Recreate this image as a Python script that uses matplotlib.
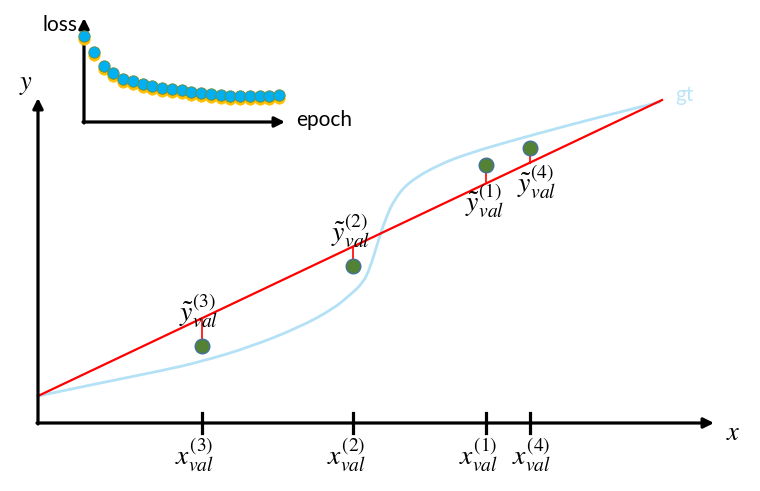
import numpy as np
import matplotlib
matplotlib.use("Agg")
import matplotlib.pyplot as plt
from matplotlib.path import Path
from matplotlib.patches import PathPatch

plt.rcParams['mathtext.fontset'] = 'stix'
plt.rcParams['font.family'] = ['Lato', 'DejaVu Sans']

# ---- data (diagram coordinates, pixel units of the reference) ----
origin = (38, 423)
x_axis_end = 714
y_axis_end = 98

fit_line_x = [38, 662]
fit_line_y = [396, 100]

gt_x = [38, 100, 160, 200, 250, 300, 333, 350, 363, 370, 377, 385, 395, 410, 440, 470, 507, 573, 620, 660]
gt_y = [396, 383, 371, 362, 347, 327, 309, 295, 283, 268, 245, 220, 198, 181, 164, 153, 142, 124, 112, 102]

val_ids = ['1', '2', '3', '4']
val_x = [486, 353, 202, 530]
val_y = [165, 266, 346, 148]

ytilde_label_pos = [(485, 201), (351, 231), (199, 311), (537, 182)]
x_label_pos = [(478, 455), (346, 455), (194, 455), (531, 455)]

# inset loss curve
epochs = np.arange(21)
loss = [86, 70, 56, 49, 43, 41, 38, 36, 34, 33, 32, 30, 29, 28, 27, 26, 26, 26, 26, 26, 27]
inset_origin = (84, 122)
inset_x_end = 285
inset_y_end = 18

fig = plt.figure(figsize=(7.6, 4.91), dpi=100)
ax = fig.add_axes([0, 0, 1, 1])
ax.set_xlim(0, 760)
ax.set_ylim(491, 0)
ax.axis('off')

arrow_kw = dict(arrowstyle='-|>,head_length=0.6,head_width=0.3', color='black', lw=2.3,
                shrinkA=0, shrinkB=0)

# main axes
ax.annotate('', xy=(x_axis_end, origin[1]), xytext=(origin[0] - 1, origin[1]), arrowprops=arrow_kw)
ax.annotate('', xy=(origin[0], y_axis_end), xytext=(origin[0], origin[1] + 1), arrowprops=arrow_kw)
ax.text(733, 433, '$x$', fontsize=19, ha='center', va='center')
ax.text(26, 84, '$y$', fontsize=19, ha='center', va='center')

# gt curve (smoothed rendering of the read points with quadratic Bezier segments)
pts = np.column_stack([gt_x, gt_y]).astype(float)
verts = [pts[0]]
codes = [Path.MOVETO]
for i in range(1, len(pts) - 1):
    mid = (pts[i] + pts[i + 1]) / 2 if i < len(pts) - 2 else pts[i + 1]
    verts += [pts[i], mid]
    codes += [Path.CURVE3, Path.CURVE3]
ax.add_patch(PathPatch(Path(verts, codes), fill=False, edgecolor='#B4E1F5', lw=2,
                       capstyle='round', joinstyle='round'))
ax.text(675, 95, 'gt', fontsize=15, color='#BDE5F8', ha='left', va='center')
ax.plot(fit_line_x, fit_line_y, color='#FF0000', lw=1.6)

slope = (fit_line_y[1] - fit_line_y[0]) / (fit_line_x[1] - fit_line_x[0])
for k, xv, yv, (tx, ty), (lx, ly) in zip(val_ids, val_x, val_y, ytilde_label_pos, x_label_pos):
    y_line = fit_line_y[0] + slope * (xv - fit_line_x[0])
    ax.plot([xv, xv], [yv, y_line], color='#FF0000', lw=1.2, zorder=3)
    ax.plot([xv, xv], [origin[1] - 10, origin[1] + 10], color='black', lw=2.3, zorder=3)
    ax.plot(xv, yv, 'o', ms=10.5, mfc='#548235', mec='#41719C', mew=1.0, zorder=4)
    ax.text(tx, ty, r'$\tilde{y}_{val}^{(%s)}$' % k, fontsize=20, ha='center', va='center', zorder=5)
    ax.text(lx, ly, r'$x_{val}^{(%s)}$' % k, fontsize=20, ha='center', va='center', zorder=5)

# inset
ax.annotate('', xy=(inset_x_end, inset_origin[1]), xytext=(inset_origin[0] - 1, inset_origin[1]), arrowprops=arrow_kw)
ax.annotate('', xy=(inset_origin[0], inset_y_end), xytext=(inset_origin[0], inset_origin[1] + 1), arrowprops=arrow_kw)
ax.text(78, 25, 'loss', fontsize=15, ha='right', va='center')
ax.text(296, 120, 'epoch', fontsize=15, ha='left', va='center')

ex = inset_origin[0] + epochs * 9.75
ly_ = inset_origin[1] - np.array(loss)
ax.plot(ex, ly_ + 2.5, 'o', ms=8.2, mfc='#FFC000', mec='#FFC000', mew=0.5, ls='none', zorder=5)
ax.plot(ex, ly_, 'o', ms=8.2, mfc='#00B0F0', mec='#6E8B3D', mew=0.6, ls='none', zorder=6)

fig.savefig('out.png', dpi=100)
